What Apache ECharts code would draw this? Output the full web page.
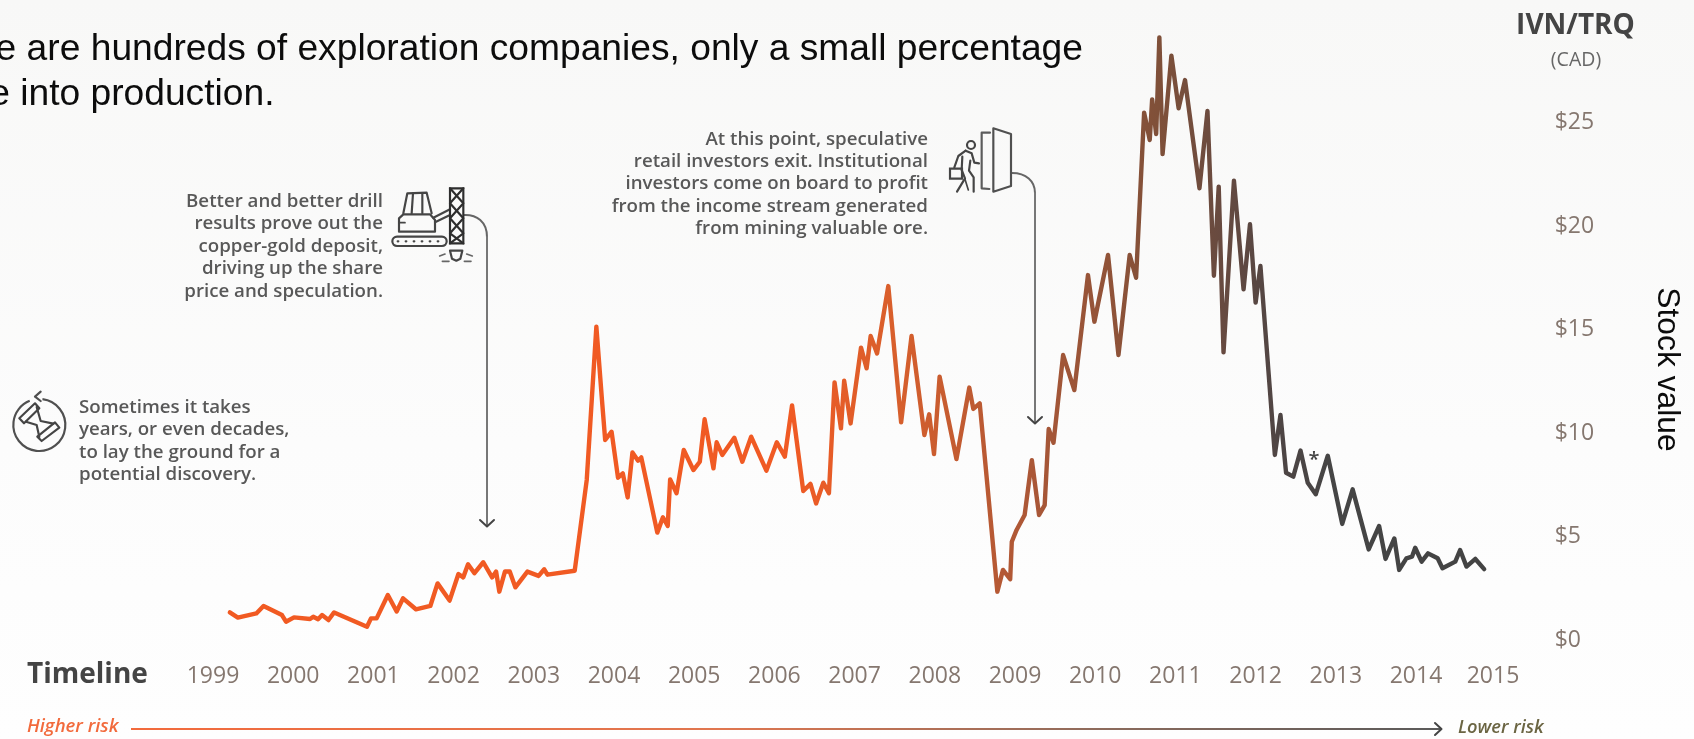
<!DOCTYPE html>
<html>
<head>
<meta charset="utf-8">
<style>html,body{margin:0;padding:0;background:#fbfbfa}#chart{width:1694px;height:739px}</style>
<script src="https://cdn.jsdelivr.net/npm/echarts@6/dist/echarts.min.js"></script>
</head>
<body>
<div id="chart"></div>
<script>
// IVN/TRQ share price in CAD, as decimal year and price pairs.
const years = [
  1999.21,1999.31,1999.54,1999.63,1999.86,1999.91,2000.01,2000.21,2000.25,2000.31,2000.36,2000.44,2000.51,2000.92,2000.97,
  2001.04,2001.18,2001.29,2001.37,2001.53,2001.71,2001.80,2001.95,2002.06,2002.12,2002.18,2002.26,2002.37,2002.48,2002.53,
  2002.57,2002.64,2002.70,2002.77,2002.92,2003.06,2003.13,2003.17,2003.51,2003.66,2003.78,2003.85,2003.89,2003.97,2004.05,
  2004.11,2004.17,2004.23,2004.30,2004.34,2004.54,2004.61,2004.67,2004.70,2004.78,2004.87,2004.99,2005.07,2005.13,2005.24,
  2005.28,2005.35,2005.50,2005.60,2005.71,2005.90,2006.03,2006.13,2006.22,2006.36,2006.45,2006.52,2006.61,2006.68,2006.75,
  2006.83,2006.87,2006.95,2007.08,2007.15,2007.20,2007.28,2007.42,2007.58,2007.71,2007.87,2007.93,2007.99,2008.06,2008.27,
  2008.43,2008.48,2008.56,2008.78,2008.85,2008.94,2008.96,2009.02,2009.12,2009.21,2009.30,2009.37,2009.42,2009.48,2009.60,
  2009.74,2009.91,2009.99,2010.16,2010.29,2010.43,2010.51,2010.61,2010.68,2010.71,2010.76,2010.80,2010.84,2010.95,2011.04,
  2011.12,2011.30,2011.40,2011.48,2011.54,2011.60,2011.73,2011.85,2011.93,2012.00,2012.06,2012.24,2012.31,2012.38,2012.47,
  2012.56,2012.65,2012.75,2012.90,2013.08,2013.21,2013.41,2013.54,2013.62,2013.73,2013.79,2013.88,2013.95,2013.99,2014.07,
  2014.15,2014.27,2014.33,2014.49,2014.55,2014.63,2014.74,2014.85
];
const prices = [
  1.26,1.01,1.21,1.57,1.13,0.81,1.02,0.94,1.05,0.93,1.13,0.89,1.26,0.57,0.97,
  0.97,2.10,1.30,1.94,1.41,1.57,2.66,1.83,3.11,2.95,3.58,3.15,3.68,2.95,3.23,
  2.26,3.23,3.23,2.47,3.23,3.02,3.34,3.08,3.27,7.65,15.05,11.51,9.58,9.98,7.76,
  7.97,6.81,8.98,8.58,8.74,5.11,5.85,5.43,7.68,7.01,9.10,8.13,8.53,10.58,8.21,
  9.47,8.86,9.69,8.53,9.74,8.10,9.47,8.78,11.25,7.12,7.46,6.52,7.52,7.01,12.36,
  10.14,12.44,10.38,14.04,13.04,14.60,13.76,17.01,10.43,14.60,9.82,10.82,8.90,12.64,8.66,
  12.11,11.08,11.35,2.26,3.31,2.86,4.67,5.24,5.96,8.61,5.96,6.44,10.11,9.45,13.68,
  11.99,17.54,15.29,18.51,13.68,18.51,17.41,25.38,24.06,26.02,24.35,29.01,23.38,28.13,25.59,
  26.95,21.73,25.46,17.51,21.81,13.81,22.10,16.85,19.99,16.21,17.98,8.86,10.79,8.00,7.81,
  9.07,7.52,6.96,8.82,5.53,7.20,4.30,5.43,3.84,4.83,3.31,3.87,3.95,4.38,3.71,
  4.11,3.87,3.39,3.71,4.27,3.47,3.84,3.35
];
const yearTicks = [1999,2000,2001,2002,2003,2004,2005,2006,2007,2008,2009,2010,2011,2012,2013,2014,2014.96];
const priceTicks = [0,5,10,15,20,25];

const UI_FONT = '"Open Sans", "Noto Sans", sans-serif';
const HEAD_FONT = '"Liberation Sans", Arial, sans-serif';
const { LinearGradient } = echarts.graphic;

function label(text, x, y, size, color, extra) {
  return { type: 'text', x, y, silent: true, style: Object.assign({
    text, fontSize: size, fill: color, fontFamily: UI_FONT, verticalAlign: 'middle'
  }, extra || {}) };
}
function note(text, x, y, align) {
  return { type: 'text', x, y, silent: true, style: {
    text, fontSize: 18.7, lineHeight: 22.4, fill: '#585858', fontFamily: UI_FONT,
    fontWeight: 600, align, verticalAlign: 'top'
  } };
}
function stroke(points, color, width) {
  return { type: 'polyline', silent: true, shape: { points },
    style: { stroke: color, lineWidth: width, fill: null, lineJoin: 'round', lineCap: 'round' } };
}
function bend(x1, y1, cpx1, cpy1, cpx2, cpy2, x2, y2, color, width) {
  return { type: 'bezierCurve', silent: true, shape: { x1, y1, cpx1, cpy1, cpx2, cpy2, x2, y2 },
    style: { stroke: color, lineWidth: width, fill: null } };
}
function rect(x, y, width, height, r, color, lineWidth) {
  return { type: 'rect', silent: true, shape: { x, y, width, height, r },
    style: { stroke: color, lineWidth, fill: null } };
}

// Icons are drawn in a 3x local space and scaled down into place.
function icon(x, y, children) {
  return { type: 'group', x, y, scaleX: 1 / 3, scaleY: 1 / 3, silent: true, children };
}
const INK = '#454545';
const W = 6.5;

const hourglass = icon(0, 385, [
  { type: 'arc', shape: { cx: 118, cy: 120, r: 78, startAngle: -1.45, endAngle: -1.95, clockwise: true },
    style: { stroke: '#505050', lineWidth: W, fill: null } },
  stroke([[122, 20], [105, 35], [122, 48]], '#505050', W),
  stroke([[58, 100], [105, 55], [118, 70], [72, 115], [58, 100]], INK, W),
  stroke([[112, 155], [165, 112], [178, 128], [125, 168], [112, 155]], INK, W),
  stroke([[78, 110], [110, 120], [118, 156]], INK, W),
  stroke([[110, 66], [122, 108], [160, 116]], INK, W)
]);

const drillRig = icon(385, 180, [
  stroke([[55, 100], [67, 40], [125, 38], [140, 100]], INK, W),
  stroke([[84, 40], [80, 100]], INK, W),
  stroke([[112, 40], [112, 100]], INK, W),
  stroke([[55, 103], [42, 115], [42, 155], [150, 155], [150, 120], [135, 103], [55, 103]], INK, W),
  stroke([[42, 128], [60, 128]], INK, 5),
  rect(22, 170, 163, 28, 14, INK, W),
  stroke([[38, 184], [40, 184]], INK, W), stroke([[62, 184], [64, 184]], INK, W),
  stroke([[86, 184], [88, 184]], INK, W), stroke([[110, 184], [112, 184]], INK, W),
  stroke([[134, 184], [136, 184]], INK, W), stroke([[158, 184], [160, 184]], INK, W),
  stroke([[145, 113], [195, 88]], INK, W),
  stroke([[150, 127], [195, 105]], INK, W),
  rect(195, 25, 40, 165, 0, '#2e2e2e', W),
  stroke([[195, 25], [235, 70], [195, 115], [235, 160], [195, 190]], '#2e2e2e', W),
  stroke([[235, 25], [195, 70], [235, 115], [195, 160], [235, 190]], '#2e2e2e', W),
  stroke([[195, 212], [232, 212], [226, 236], [214, 242], [201, 236], [195, 212]], INK, W),
  stroke([[164, 228], [180, 222]], '#666', 5), stroke([[172, 244], [192, 244]], '#666', 5),
  stroke([[245, 222], [262, 228]], '#666', 5), stroke([[238, 244], [258, 244]], '#666', 5)
]);

const leavingInvestor = icon(945, 120, [
  stroke([[135, 38], [110, 38], [110, 205], [133, 207]], '#5c5c5c', W),
  stroke([[145, 25], [198, 42], [198, 198], [145, 215], [145, 25]], '#505050', W),
  { type: 'circle', shape: { cx: 78, cy: 75, r: 12 }, style: { stroke: INK, lineWidth: W, fill: null } },
  stroke([[62, 92], [40, 108], [28, 142]], INK, W),
  stroke([[62, 92], [80, 100], [88, 128], [102, 130]], INK, W),
  stroke([[52, 110], [50, 150], [60, 175], [36, 215]], INK, W),
  stroke([[76, 122], [72, 152], [86, 172], [86, 215]], INK, W),
  stroke([[60, 178], [70, 210]], INK, 5),
  rect(15, 146, 36, 30, 0, INK, W)
]);

const annotations = [
  // Clipped intro sentence above the chart
  { type: 'text', x: -4.4, y: 50, silent: true, style: { text: 'e are hundreds of exploration companies, only a small percentage',
    fontSize: 37.2, fill: '#0c0c0c', fontFamily: HEAD_FONT, verticalAlign: 'middle' } },
  { type: 'text', x: -10.8, y: 94.8, silent: true, style: { text: 'e into production.',
    fontSize: 37.2, fill: '#0c0c0c', fontFamily: HEAD_FONT, verticalAlign: 'middle' } },

  // Vertical axis caption, reading downward
  { type: 'text', x: 1667, y: 369.5, rotation: -Math.PI / 2, silent: true, style: { text: 'Stock value',
    fontSize: 31.8, fill: '#0c0c0c', fontFamily: HEAD_FONT, align: 'center', verticalAlign: 'middle' } },

  label('IVN/TRQ', 1575.5, 26, 28, '#444', { fontWeight: 700, align: 'center' }),
  label('(CAD)', 1576, 60, 19.5, '#666', { align: 'center' }),
  label('Timeline', 27, 675, 28, '#444', { fontWeight: 700 }),
  label('*', 1314, 460, 20, '#444', { align: 'center', fontWeight: 600 }),

  note('Sometimes it takes\nyears, or even decades,\nto lay the ground for a\npotential discovery.', 79, 396.5, 'left'),
  note('Better and better drill\nresults prove out the\ncopper-gold deposit,\ndriving up the share\nprice and speculation.', 383, 190.5, 'right'),
  note('At this point, speculative\nretail investors exit. Institutional\ninvestors come on board to profit\nfrom the income stream generated\nfrom mining valuable ore.', 928, 128, 'right'),

  // Callout leaders
  bend(463, 215, 477, 214, 487, 222, 487, 237, '#666', 2),
  stroke([[487, 237], [487, 526]], '#777', 2),
  stroke([[480, 520], [487, 526.5], [494, 520]], '#444', 2),
  bend(1012, 173, 1026, 173, 1035, 181, 1035, 193, '#666', 2),
  stroke([[1035, 193], [1035, 423]], '#777', 2),
  stroke([[1028, 417], [1035, 423.5], [1042, 417]], '#444', 2),

  hourglass, drillRig, leavingInvestor,

  // Risk scale along the bottom
  label('Higher risk', 27, 727, 18.5, '#f26a3c', { fontStyle: 'italic', fontWeight: 600 }),
  { type: 'rect', silent: true, shape: { x: 131, y: 728, width: 1310, height: 2 },
    style: { fill: new LinearGradient(0, 0, 1, 0, [
      { offset: 0, color: '#f26a3c' }, { offset: 0.45, color: '#e0764f' },
      { offset: 0.75, color: '#8a6a5c' }, { offset: 1, color: '#5a5a5a' }
    ]) } },
  stroke([[1435, 723], [1441.5, 729], [1435, 735]], '#444', 2),
  label('Lower risk', 1458, 728, 18.3, '#6b6543', { fontStyle: 'italic', fontWeight: 600 })
];

const chart = echarts.init(document.getElementById('chart'), null, { renderer: 'canvas' });
chart.setOption({
  animation: false,
  backgroundColor: new LinearGradient(0, 0, 0, 1, [
    { offset: 0, color: '#f8f8f7' }, { offset: 0.6, color: '#fcfcfc' }, { offset: 1, color: '#fefefe' }
  ]),
  grid: { left: 213, right: 197.8, top: 16.9, height: 621.6 },
  xAxis: {
    type: 'value', min: 1999, max: 2015,
    axisLine: { show: false }, axisTick: { show: false }, splitLine: { show: false },
    axisLabel: {
      customValues: yearTicks, formatter: v => String(Math.round(v)),
      fontSize: 23, color: '#85776f', fontFamily: UI_FONT, margin: 26
    }
  },
  yAxis: {
    type: 'value', position: 'right', min: 0, max: 30,
    axisLine: { show: false }, axisTick: { show: false }, splitLine: { show: false },
    axisLabel: {
      customValues: priceTicks, formatter: v => '{tick|$' + v + '}',
      margin: 58.5,
      rich: { tick: { fontSize: 23, color: '#85776f', fontFamily: UI_FONT, padding: [4, 0, 0, 0] } }
    }
  },
  series: [{
    type: 'line', showSymbol: false, silent: true, smooth: false,
    data: years.map((y, i) => [y, prices[i]]),
    lineStyle: {
      width: 4.4, join: 'round', cap: 'round',
      color: new LinearGradient(0, 0, 1, 0, [
        { offset: 0, color: '#f15a22' }, { offset: 0.447, color: '#f05a24' },
        { offset: 0.53, color: '#d85f2c' }, { offset: 0.64, color: '#aa5737' },
        { offset: 0.74, color: '#7f5039' }, { offset: 0.79, color: '#674a40' },
        { offset: 0.835, color: '#4e4544' }, { offset: 0.88, color: '#454545' },
        { offset: 1, color: '#434343' }
      ])
    }
  }],
  graphic: { elements: annotations }
});
</script>
</body>
</html>
